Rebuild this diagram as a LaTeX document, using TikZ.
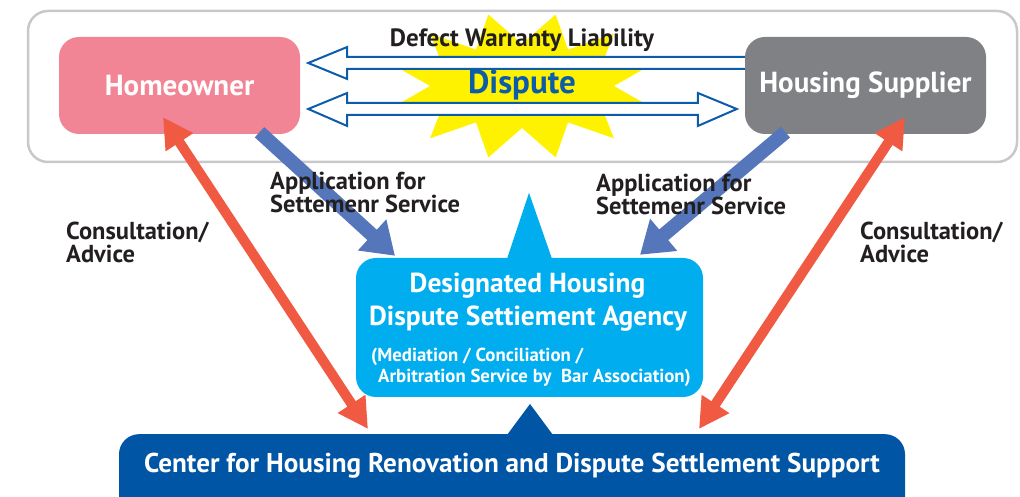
\documentclass[tikz,border=0pt]{standalone}
\usepackage{fontspec}
\setmainfont{PT Sans}
\usepackage{tikz}
\usetikzlibrary{positioning,arrows.meta,calc}
\usepackage{xcolor}
\definecolor{ownerpink}{RGB}{242, 133, 149}
\definecolor{suppliergray}{RGB}{128, 129, 132}
\definecolor{agencycyan}{RGB}{0, 174, 239}
\definecolor{supportblue}{RGB}{0, 85, 165}
\definecolor{consultred}{RGB}{241, 90, 66}
\definecolor{applyblue}{RGB}{86, 118, 188}
\definecolor{disputeblue}{RGB}{12, 92, 170}
\definecolor{staryellow}{RGB}{255, 242, 0}
\definecolor{framegray}{RGB}{200, 200, 203}
\definecolor{labeltext}{RGB}{35, 31, 32}

\begin{document}
\begin{tikzpicture}[
    x=1pt, y=1pt,
    font=\bfseries,
    party/.style={rounded corners=20pt, minimum width=241pt, minimum height=97pt,
        text=white, font=\bfseries\fontsize{29}{32}\selectfont},
    redarrow/.style={draw=consultred, line width=10pt,
        {Triangle[length=30pt,width=31pt]}-{Triangle[length=30pt,width=31pt]}},
    applyarrow/.style={draw=applyblue, line width=14pt,
        -{Triangle[length=31pt,width=40pt]}},
    hollow/.style={draw=disputeblue, line width=2pt, fill=white},
    lbl/.style={anchor=north west, align=left, inner sep=0pt, text=labeltext,
        font=\bfseries\fontsize{24.5}{23}\selectfont},
    agencytext/.style={inner sep=0pt, text=white},
]
\useasboundingbox (0,0) rectangle (1020,497);

\def\starx{522}
\def\stary{411}

% ===== Parties and the dispute =====
\draw[framegray, line width=2.5pt, rounded corners=20pt] (28,486) rectangle (1017,335);

% star burst behind the dispute arrows
\fill[staryellow] ({\starx+92},{\stary})
    \foreach \a in {15,45,...,345} {
        -- ({\starx+130*cos(\a)},{\stary+74*sin(\a)})
        -- ({\starx+92*cos(\a+15)},{\stary+42*sin(\a+15)})
    } -- cycle;

\node[party, fill=ownerpink] (owner) at (179.5,411.5) {Homeowner};
\node[party, fill=suppliergray] (supplier) at (865.5,411.5) {Housing Supplier};

% liability arrow, supplier to owner
\coordinate (liab) at ($(owner.east |- 0,434)+(8,0)$);
\draw[hollow] (supplier.west |- 0,440) -- ($(liab)+(39,6)$) -- ++(0,10)
    -- (liab) -- ++(39,-16) -- ++(0,10) -- (supplier.west |- 0,428);

% dispute arrow, both ways
\coordinate (dl) at ($(owner.east |- 0,388)+(8,0)$);
\coordinate (dr) at ($(supplier.west |- 0,388)+(-8,0)$);
\draw[hollow] (dl) -- ++(39,16) -- ++(0,-10) -- ($(dr)+(-39,6)$) -- ++(0,10)
    -- (dr) -- ++(-39,-17) -- ++(0,11) -- ($(dl)+(39,-6)$) -- ++(0,-11) -- cycle;

\node[text=labeltext, font=\bfseries\fontsize{25}{28}\selectfont] at (522,457) {Defect Warranty Liability};
\node[text=disputeblue, font=\bfseries\fontsize{33}{36}\selectfont] at (522,412) {Dispute};

% ===== Agency and support center =====
\node[fill=agencycyan, rounded corners=20pt, minimum width=347pt, minimum height=139pt] (agency) at (529.5,169.5) {};
\fill[agencycyan] ($(agency.north)+(-22.5,-1)$) -- ($(agency.north)+(-0.5,65)$) -- ($(agency.north)+(22.5,-1)$) -- cycle;

\node[fill=supportblue, rounded corners=20pt, minimum width=786pt, minimum height=100pt, anchor=north] (support) at (512,63) {};
\fill[supportblue] ($(support.north)+(-5,-1)$) -- ($(support.north)+(18,30)$) -- ($(support.north)+(41,-1)$) -- cycle;

\node[agencytext, anchor=base, font=\bfseries\fontsize{27.5}{30}\selectfont] at (527.5,204) {Designated Housing};
\node[agencytext, anchor=base, font=\bfseries\fontsize{27.5}{30}\selectfont] at (528,171) {Dispute Settiement Agency};
\node[agencytext, anchor=base west, font=\bfseries\fontsize{18.8}{22}\selectfont] at (371,135) {(Mediation / Conciliation /};
\node[agencytext, anchor=base west, font=\bfseries\fontsize{18.8}{22}\selectfont] at (378,114) {Arbitration Service by\ \ Bar Association)};

\node[text=white, font=\bfseries\fontsize{27.2}{30}\selectfont] at (512,31) {Center for Housing Renovation and Dispute Settlement Support};

% ===== Connectors =====
\draw[applyarrow] ($(owner.south)+(80,2)$) -- ($(agency.north)+(-134.5,2)$);
\draw[applyarrow] ($(supplier.south)+(-80,2)$) -- ($(agency.north)+(110.5,3)$);

\draw[redarrow] ($(support.north)+(-144,5)$) -- ($(owner.south)+(-16.5,17)$);
\draw[redarrow] ($(support.north)+(187,5)$) -- ($(supplier.south)+(39.5,17)$);

\node[lbl] at (270,325) {Application for\\Settemenr Service};
\node[lbl] at (596,323) {Application for\\Settemenr Service};
\node[lbl] at (66,275) {Consultation/\\Advice};
\node[lbl] at (860,275) {Consultation/\\Advice};

\end{tikzpicture}
\end{document}
